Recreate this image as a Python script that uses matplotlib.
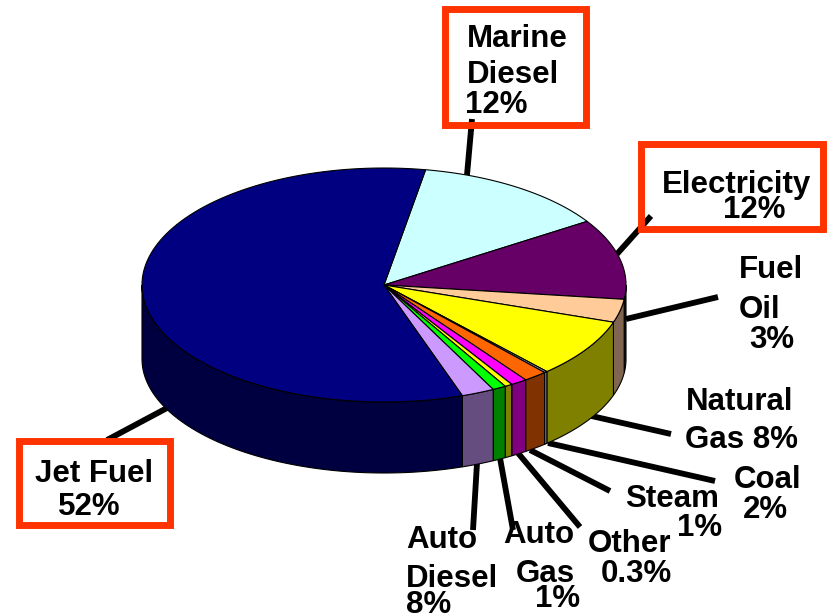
## 3d pie of fuel shares, drawn by hand as polygons
import matplotlib.pyplot as plt
from matplotlib.patches import Polygon, Rectangle
import numpy as np

plt.rcParams.update({'font.family': 'Liberation Sans', 'font.weight': 'bold', 'font.size': 22.5})

# slices clockwise from the top (shares, percent)
slice_names = ['Marine Diesel', 'Electricity', 'Fuel Oil', 'Natural Gas', 'Misc',
               'Coal', 'Steam', 'Other', 'Auto Gas', 'Auto Diesel', 'Jet Fuel']
shares = [13.1, 11.1, 3.2, 8.1, 0.2, 1.6, 1.1, 0.5, 0.9, 2.2, 58.0]
top_colors = ['#CCFFFF', '#660066', '#FFCC99', '#FFFF00', '#A8A8D0',
              '#FF6600', '#FF00FF', '#FFFF00', '#00FF00', '#CC99FF', '#000080']
side_colors = ['#668080', '#330033', '#806650', '#808000', '#8C8CAA',
               '#803300', '#800080', '#808000', '#008000', '#664D80', '#000040']

# label lines: text, x, baseline y (pixels)
label_lines = [
    ('Marine', 467, 47), ('Diesel', 467, 83), ('12%', 465, 113),
    ('Electricity', 662, 193), ('12%', 723, 218),
    ('Fuel', 739, 278), ('Oil', 739, 318), ('3%', 749, 348),
    ('Natural', 686, 410), ('Gas 8%', 685, 448),
    ('Coal', 734, 488), ('2%', 743, 518),
    ('Steam', 625, 507), ('1%', 677, 536),
    ('Other', 588, 552), ('0.3%', 601, 582),
    ('Auto', 503, 543), ('Gas', 516, 582), ('1%', 535, 607),
    ('Auto', 406, 548), ('Diesel', 406, 587), ('8%', 406, 613),
    ('Jet Fuel', 35, 482), ('52%', 58, 515),
]
leaders = [((467, 175), (472, 119)), ((617, 254), (651, 216)), ((626, 319), (718, 297)),
           ((587, 415), (671, 434)), ((548, 443), (715, 481)), ((530, 450), (610, 491)),
           ((518, 453), (580, 527)), ((500, 458), (513, 530)), ((477, 463), (473, 530)),
           ((167, 408), (107, 440))]
boxes = [(445.5, 8.5, 141, 116), (641.5, 143.5, 182, 85), (19.5, 440.5, 151, 84)]

cx, cy, a, b = 384, 285, 242, 117
cyb, bb = 359, 114
start = 80.1


def top_pt(t):
    t = np.radians(t)
    return np.column_stack([cx + a * np.cos(t), cy - b * np.sin(t)])


def bot_pt(t):
    t = np.radians(t)
    return np.column_stack([cx + a * np.cos(t), cyb - bb * np.sin(t)])


fig = plt.figure(figsize=(8.33, 6.16), dpi=100)
ax = fig.add_axes([0, 0, 1, 1])
ax.set_xlim(0, 833)
ax.set_ylim(616, 0)
ax.axis('off')

bounds = start - np.concatenate([[0], np.cumsum(shares)]) / 100 * 360

# side walls (front half only, angles -180..0)
for i in range(len(shares)):
    t0, t1 = bounds[i], bounds[i + 1]
    hi, lo = min(t0, 0), max(t1, -180)
    if hi <= lo:
        continue
    ts = np.linspace(hi, lo, 80)
    pts = np.vstack([top_pt(ts), bot_pt(ts[::-1])])
    ax.add_patch(Polygon(pts, closed=True, fc=side_colors[i], ec='black', lw=0.8, zorder=2))

# top face
for i in range(len(shares)):
    ts = np.linspace(bounds[i], bounds[i + 1], 120)
    pts = np.vstack([[cx, cy], top_pt(ts)])
    ax.add_patch(Polygon(pts, closed=True, fc=top_colors[i], ec='black', lw=0.8, zorder=3))

for p0, p1 in leaders:
    ax.plot([p0[0], p1[0]], [p0[1], p1[1]], c='black', lw=4.2, solid_capstyle='butt', zorder=1)

for x, y, w, h in boxes:
    ax.add_patch(Rectangle((x, y), w, h, fill=False, ec='#FF3300', lw=5, zorder=4))

for txt, x, y in label_lines:
    ax.text(x, y, txt, ha='left', va='baseline', color='black', zorder=5)

plt.savefig('out.png', dpi=100)
